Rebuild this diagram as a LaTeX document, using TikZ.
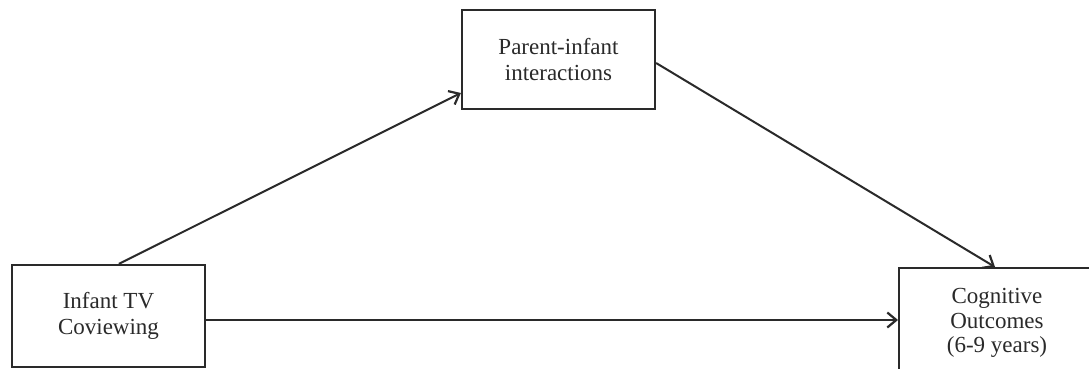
\documentclass[tikz,border=0pt]{standalone}
\usepackage{fontspec}
\setmainfont{Liberation Serif}
\usetikzlibrary{arrows.meta}
\definecolor{ink}{HTML}{2A2A2A}
\tikzset{
  box/.style={draw=ink, line width=2.2pt, fill=white, inner sep=0pt, align=center,
    text=ink, font=\fontsize{23}{26.5}\selectfont},
  conn/.style={draw=ink, line width=2pt, -{Straight Barb[length=9pt,width=15pt,line width=2.2pt]}}
}
\begin{document}
\begin{tikzpicture}[x=1pt,y=-1pt]
\useasboundingbox (0,0) rectangle (1089,369);
\clip (0,0) rectangle (1089,369);
\fill[white] (0,0) rectangle (1089,369);
\node[box, minimum width=193pt, minimum height=102pt] (L) at (108.5,316) {Infant TV\\Coviewing};
\node[box, minimum width=193pt, minimum height=99pt] (T) at (558.5,59.5) {Parent-infant\\interactions};
\node[box, minimum width=198pt, minimum height=104pt, anchor=north west] (R) at (898,267) {};
\node[text=ink, font=\fontsize{23}{24.5}\selectfont, align=center] (Rt) at (997,323) {Cognitive\\Outcomes\\(6-9 years)};
\draw[conn] ([xshift=108pt]L.north west) -- ([yshift=-33.5pt]T.west);
\draw[conn] ([yshift=-3.5pt]T.east) -- ([xshift=97pt]R.north west);
\draw[conn] ([yshift=-4pt]L.east) -- ([yshift=-4pt]L.east -| R.west);
\end{tikzpicture}
\end{document}
